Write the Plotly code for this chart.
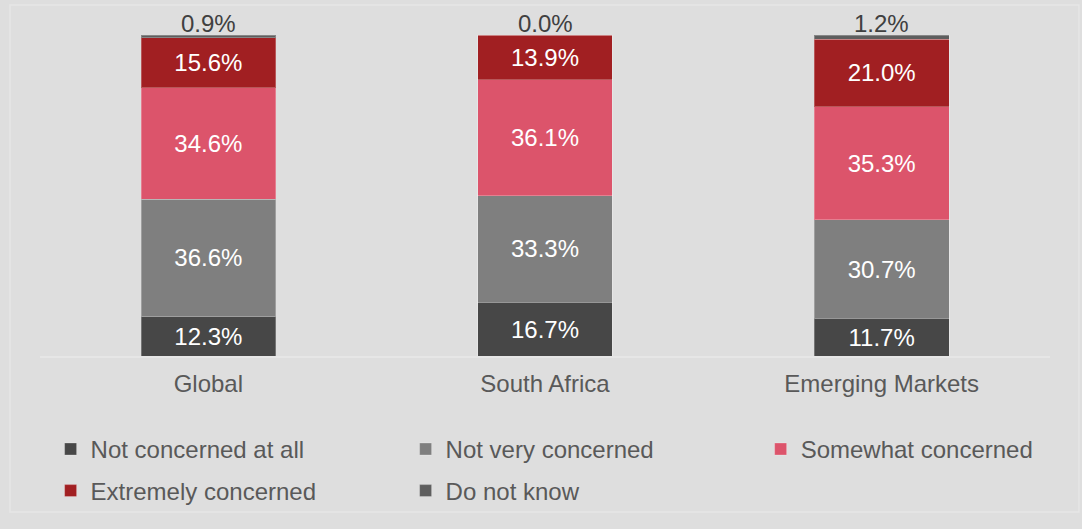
import plotly.graph_objects as go

categories = ["Global", "South Africa", "Emerging Markets"]
not_at_all = [12.3, 16.7, 11.7]
not_very = [36.6, 33.3, 30.7]
somewhat = [34.6, 36.1, 35.3]
extremely = [15.6, 13.9, 21.0]
do_not_know = [0.9, 0.0, 1.2]

series = [
    ("Not concerned at all", not_at_all, "#474747", "legend"),
    ("Not very concerned", not_very, "#7F7F7F", "legend"),
    ("Somewhat concerned", somewhat, "#DC546B", "legend3"),
    ("Extremely concerned", extremely, "#A11F22", "legend2"),
    ("Do not know", do_not_know, "#5E5E5E", "legend2"),
]

FONT = "Liberation Sans, Arial, sans-serif"
fig = go.Figure()
for name, vals, color, leg in series:
    inside = name != "Do not know"
    fig.add_trace(go.Bar(
        name=name, x=categories, y=vals,
        marker=dict(color=color, line=dict(color="rgba(255,255,255,0.25)", width=1)),
        text=[f"{v:.1f}%" for v in vals] if inside else None,
        textposition="inside" if inside else "none",
        insidetextanchor="middle",
        textfont=dict(color="white", size=24, family=FONT),
        legend=leg,
    ))

totals = [a + b + c + d + e for a, b, c, d, e in zip(not_at_all, not_very, somewhat, extremely, do_not_know)]
for cat, tot, v in zip(categories, totals, do_not_know):
    fig.add_annotation(x=cat, y=tot, text=f"{v:.1f}%", showarrow=False,
                       yanchor="bottom", yshift=-4,
                       font=dict(color="#404040", size=24, family=FONT))

fig.add_shape(type="rect", xref="paper", yref="paper",
              x0=-0.0297, x1=1.0287, y0=-0.486, y1=1.0935,
              line=dict(color="#E6E6E6", width=1.5), layer="below")

legend_common = dict(orientation="h", entrywidthmode="pixels",
                     font=dict(size=24, color="#595959", family=FONT),
                     bgcolor="rgba(0,0,0,0)", xanchor="left", yanchor="middle",
                     traceorder="normal")

fig.update_layout(
    width=1082, height=529,
    margin=dict(l=40, r=32, t=35, b=173, autoexpand=False),
    paper_bgcolor="#DEDEDE", plot_bgcolor="#DEDEDE",
    barmode="stack", bargap=0.6,
    font=dict(family=FONT),
    xaxis=dict(showline=True, linecolor="#E6E6E6", linewidth=1.5,
               tickfont=dict(size=24, color="#595959", family=FONT),
               ticks="", showgrid=False, ticklabelstandoff=5),
    yaxis=dict(range=[0, 100], visible=False, showgrid=False),
    legend=dict(x=0.0105, y=-0.291, entrywidth=310, **legend_common),
    legend3=dict(x=0.7135, y=-0.291, entrywidth=250, **legend_common),
    legend2=dict(x=0.0105, y=-0.4206, entrywidth=310, **legend_common),
    showlegend=True,
)

fig.write_html("out.html")
